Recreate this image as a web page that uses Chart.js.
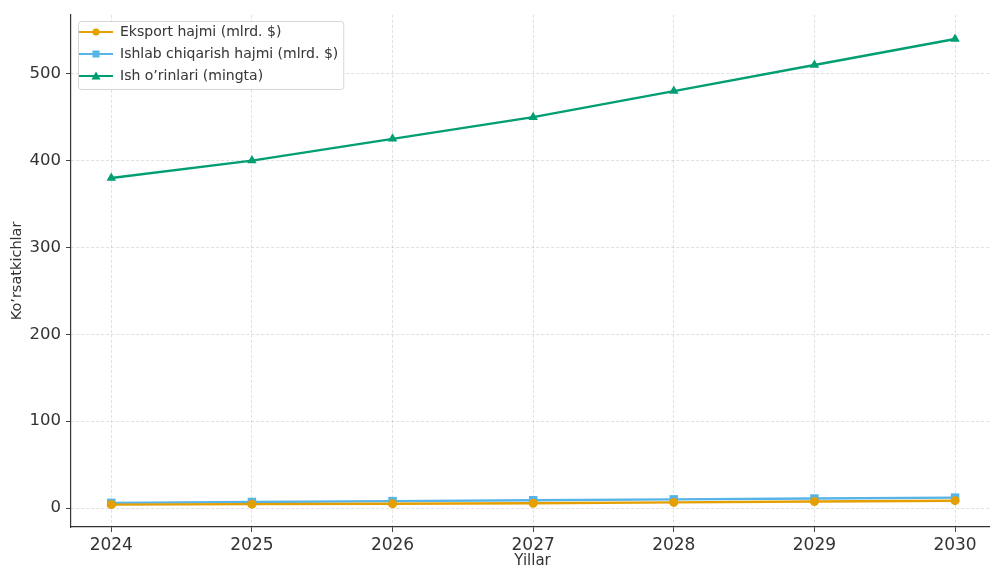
<!DOCTYPE html>
<html>
<head>
<meta charset="utf-8">
<script src="https://cdn.jsdelivr.net/npm/chart.js@4/dist/chart.umd.min.js"></script>
<style>
  html, body { margin: 0; padding: 0; overflow: hidden; background: #fff; }
  canvas { display: block; }
</style>
</head>
<body>
<canvas id="chart" width="1000" height="569"></canvas>
<script>
const years = [2024, 2025, 2026, 2027, 2028, 2029, 2030];
const eksport = [4, 4.5, 5, 5.5, 6.5, 7.5, 8.5];
const ishlab = [6, 7, 8, 9, 10, 11, 12];
const ishOrinlari = [380, 400, 425, 450, 480, 510, 540];
const seriesNames = ["Eksport hajmi (mlrd. $)", "Ishlab chiqarish hajmi (mlrd. $)", "Ish o\u2019rinlari (mingta)"];
const yTicks = [0, 100, 200, 300, 400, 500];

const colors = ["#E69F00", "#56B4E9", "#009E73"];
const styles = ["circle", "rect", "triangle"];
const radii = [4.5, 6, 5.5];

// little legend handle: line with marker in the middle
function makeHandle(color, style) {
  const c = document.createElement("canvas");
  c.width = 34; c.height = 12;
  const g = c.getContext("2d");
  g.strokeStyle = color; g.fillStyle = color; g.lineWidth = 2;
  g.beginPath(); g.moveTo(0, 6); g.lineTo(34, 6); g.stroke();
  g.beginPath();
  if (style === "circle") g.arc(17, 6, 3.5, 0, Math.PI * 2);
  else if (style === "rect") g.rect(13.5, 2.5, 7, 7);
  else { g.moveTo(17, 1.5); g.lineTo(21.5, 9.5); g.lineTo(12.5, 9.5); g.closePath(); }
  g.fill();
  return c;
}
const handles = colors.map((c, i) => makeHandle(c, styles[i]));

const toPoints = (arr) => arr.map((v, i) => ({ x: years[i], y: v }));

const legendFrame = {
  id: "legendFrame",
  beforeDatasetsDraw(chart) {
    const lg = chart.legend;
    if (!lg || !lg.legendHitBoxes || !lg.legendHitBoxes.length) return;
    const hb = lg.legendHitBoxes;
    const l = Math.min(...hb.map(h => h.left)) - 1;
    const r = Math.max(...hb.map(h => h.left + h.width)) + 5;
    const t = hb[0].top - 4;
    const b = hb[hb.length - 1].top + hb[hb.length - 1].height + 6;
    const ctx = chart.ctx;
    ctx.save();
    ctx.beginPath();
    ctx.roundRect(l + 0.5, t + 0.5, r - l, b - t, 3);
    ctx.fillStyle = "rgba(255,255,255,0.85)";
    ctx.fill();
    ctx.strokeStyle = "#d6d6d6";
    ctx.lineWidth = 1;
    ctx.stroke();
    ctx.restore();
    lg.draw();
  }
};

const gridOpts = {
  color: "rgba(0,0,0,0.12)",
  lineWidth: 1,
  tickLength: 5,
  tickColor: "#444",
  tickWidth: 1,
  tickBorderDash: []
};

new Chart(document.getElementById("chart").getContext("2d"), {
  type: "line",
  data: {
    datasets: [
      { label: seriesNames[0], data: toPoints(eksport) },
      { label: seriesNames[1], data: toPoints(ishlab) },
      { label: seriesNames[2], data: toPoints(ishOrinlari) }
    ].map((d, i) => Object.assign(d, {
      borderColor: colors[i],
      backgroundColor: colors[i],
      borderWidth: 2.4,
      pointStyle: styles[i],
      pointRadius: radii[i],
      pointBorderWidth: 0,
      pointBackgroundColor: colors[i],
      tension: 0,
      fill: false
    }))
  },
  options: {
    responsive: false,
    animation: false,
    devicePixelRatio: 1,
    layout: { padding: { left: 0, right: 0, top: 13, bottom: 0 } },
    plugins: {
      tooltip: { enabled: false },
      legend: {
        position: "chartArea",
        align: "start",
        title: { display: true, text: "", font: { size: 2, lineHeight: 1 }, padding: { top: 15, bottom: 0 } },
        labels: {
          usePointStyle: true,
          pointStyleWidth: 34,
          padding: 8,
          color: "#3a3a3a",
          font: { family: "DejaVu Sans", size: 14 },
          generateLabels(chart) {
            return chart.data.datasets.map((ds, i) => ({
              text: ds.label,
              pointStyle: handles[i],
              fillStyle: colors[i],
              strokeStyle: colors[i],
              lineWidth: 0,
              fontColor: "#3a3a3a",
              datasetIndex: i,
              hidden: false
            }));
          }
        }
      }
    },
    scales: {
      x: {
        type: "linear",
        min: 2023.7135,
        max: 2030.277,
        afterBuildTicks(scale) { scale.ticks = years.map(v => ({ value: v })); },
        afterFit(scale) { scale.height = 42; },
        ticks: {
          color: "#333",
          padding: 3,
          autoSkip: false,
          maxRotation: 0,
          font: { family: "DejaVu Sans", size: 17 },
          callback: (v) => String(v)
        },
        grid: gridOpts,
        border: { display: true, color: "#333", width: 1.2, dash: [3, 2] },
        title: {
          display: true,
          text: "Yillar",
          color: "#333",
          font: { family: "DejaVu Sans", size: 15, lineHeight: 1 },
          padding: { top: 0, bottom: 0 }
        }
      },
      y: {
        min: -21.8,
        max: 567.7,
        afterBuildTicks(scale) { scale.ticks = yTicks.map(v => ({ value: v })); },
        afterFit(scale) { scale.width = 71; },
        ticks: {
          color: "#333",
          padding: 5,
          font: { family: "DejaVu Sans", size: 16.5 }
        },
        grid: gridOpts,
        border: { display: true, color: "#333", width: 1.2, dash: [3, 2] },
        title: {
          display: true,
          text: "Ko\u2019rsatkichlar",
          color: "#333",
          font: { family: "DejaVu Sans", size: 14.5 },
          padding: { top: 9, bottom: 0 }
        }
      }
    }
  },
  plugins: [legendFrame]
});
</script>
</body>
</html>
